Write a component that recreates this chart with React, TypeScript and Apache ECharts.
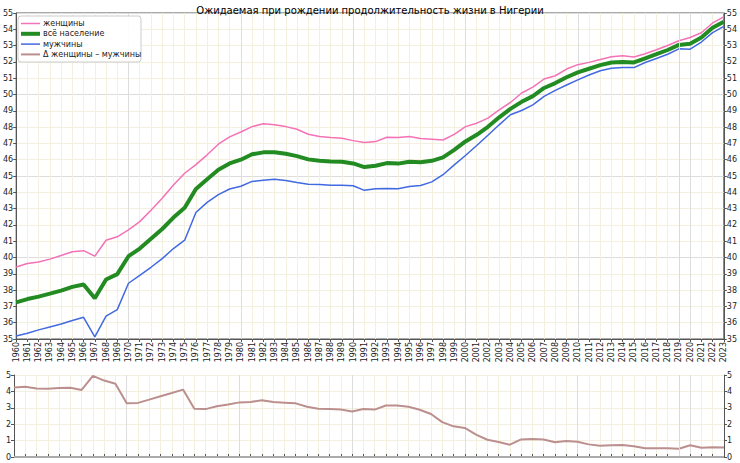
import React, { useEffect, useRef } from "react";
import * as echarts from "echarts";

const years: string[] = Array.from({ length: 64 }, (_, i) => String(1960 + i));

const women = [
  39.42, 39.63, 39.73, 39.9, 40.12, 40.35, 40.42, 40.08, 41.06, 41.27,
  41.7, 42.2, 42.9, 43.63, 44.45, 45.17, 45.7, 46.3, 46.95, 47.4,
  47.7, 48.03, 48.2, 48.15, 48.03, 47.87, 47.56, 47.42, 47.36, 47.32,
  47.17, 47.05, 47.11, 47.38, 47.36, 47.42, 47.3, 47.26, 47.21, 47.55,
  48.03, 48.24, 48.55, 49.06, 49.51, 50.09, 50.45, 50.95, 51.15, 51.56,
  51.83, 51.97, 52.15, 52.32, 52.38, 52.3, 52.5, 52.75, 53.01, 53.3,
  53.5, 53.79, 54.39, 54.76,
];

const total = [
  37.25, 37.45, 37.6, 37.78, 37.97, 38.2, 38.34, 37.5, 38.65, 38.98,
  40.08, 40.55, 41.15, 41.75, 42.45, 43.05, 44.2, 44.8, 45.38, 45.77,
  46.0, 46.33, 46.45, 46.46, 46.36, 46.22, 46.02, 45.94, 45.89, 45.87,
  45.77, 45.55, 45.63, 45.79, 45.76, 45.87, 45.84, 45.93, 46.14, 46.6,
  47.12, 47.53, 48.02, 48.6, 49.12, 49.55, 49.9, 50.4, 50.7, 51.06,
  51.36, 51.58, 51.8, 51.96, 52.0, 51.97, 52.22, 52.47, 52.73, 53.04,
  53.12, 53.5, 54.09, 54.46,
];

const men = [
  35.18, 35.35, 35.56, 35.74, 35.92, 36.13, 36.33, 35.13, 36.4, 36.8,
  38.42, 38.9, 39.4, 39.93, 40.55, 41.06, 42.76, 43.38, 43.86, 44.2,
  44.37, 44.67, 44.74, 44.8, 44.72, 44.6, 44.5, 44.48, 44.44, 44.43,
  44.4, 44.12, 44.22, 44.24, 44.22, 44.36, 44.42, 44.64, 45.08, 45.68,
  46.26, 46.87, 47.5, 48.14, 48.76, 49.02, 49.36, 49.88, 50.25, 50.58,
  50.9, 51.2, 51.46, 51.61, 51.65, 51.65, 51.96, 52.21, 52.47, 52.8,
  52.78, 53.22, 53.8, 54.18,
];

const delta = [
  4.24, 4.28, 4.17, 4.16, 4.2, 4.22, 4.09, 4.95, 4.66, 4.47,
  3.28, 3.3, 3.5, 3.7, 3.9, 4.11, 2.94, 2.92, 3.09, 3.2,
  3.33, 3.36, 3.46, 3.35, 3.31, 3.27, 3.06, 2.94, 2.92, 2.89,
  2.77, 2.93, 2.89, 3.14, 3.14, 3.06, 2.88, 2.62, 2.13, 1.87,
  1.77, 1.37, 1.05, 0.92, 0.75, 1.07, 1.09, 1.07, 0.9, 0.98,
  0.93, 0.77, 0.69, 0.71, 0.73, 0.65, 0.54, 0.54, 0.54, 0.5,
  0.72, 0.57, 0.59, 0.58,
];

const TITLE = "Ожидаемая при рождении продолжительность жизни в Нигерии";
const NAME_W = "женщины";
const NAME_T = "всё население";
const NAME_M = "мужчины";
const NAME_D = "Δ женщины – мужчины";
const MARK_YEAR = "2019";

const FONT = "DejaVu Sans";
const MINOR = "#f4f0df";
const MAJOR = "#dddddd";
const AXIS = "#555555";

const C_W = "#f472b6";
const C_T = "#228b22";
const C_M = "#4169e1";
const C_D = "#bc8f8f";

export default function App() {
  const ref = useRef<HTMLDivElement>(null);

  useEffect(() => {
    if (!ref.current) return;
    const chart = echarts.init(ref.current, null, { renderer: "svg" });

    const xMinorColors = [MAJOR, MINOR, MINOR, MINOR, MINOR, MINOR, MINOR, MINOR, MINOR, MINOR];
    const yMinorColors = [MAJOR, MINOR, MINOR, MINOR, MINOR];

    const markLine = {
      silent: true,
      symbol: "none",
      label: { show: false },
      lineStyle: { color: "#efd9a6", width: 1, type: "solid" },
      data: [{ xAxis: MARK_YEAR }],
    };

    const legendItems = [
      { name: NAME_W, color: C_W, width: 1.5 },
      { name: NAME_T, color: C_T, width: 4 },
      { name: NAME_M, color: C_M, width: 1.5 },
      { name: NAME_D, color: C_D, width: 2 },
    ];
    const legendGraphics: any[] = [
      {
        type: "rect",
        shape: { x: 18, y: 16, width: 123, height: 46, r: 3 },
        style: { fill: "rgba(255,255,255,0.9)", stroke: "#cccccc", lineWidth: 1 },
        z: 20,
      },
    ];
    legendItems.forEach((it, i) => {
      const cy = 23.5 + i * 10.3;
      legendGraphics.push({
        type: "line",
        shape: { x1: 21, y1: cy, x2: 40, y2: cy },
        style: { stroke: it.color, lineWidth: it.width },
        z: 21,
      });
      legendGraphics.push({
        type: "text",
        x: 43,
        y: cy,
        style: {
          text: it.name,
          fontFamily: FONT,
          fontSize: 8,
          fill: "#222",
          textVerticalAlign: "middle",
          verticalAlign: "middle",
        },
        z: 21,
      });
    });

    const option: any = {
      animation: false,
      textStyle: { fontFamily: FONT },
      title: {
        text: TITLE,
        left: "center",
        top: 0,
        textStyle: { fontFamily: FONT, fontSize: 10, fontWeight: "normal", color: "#000" },
      },
      grid: [
        { left: 14, right: 16, top: 13, height: 326, show: true, borderColor: AXIS, borderWidth: 1 },
        { left: 14, right: 16, top: 375, height: 82, show: false },
      ],
      xAxis: [
        {
          type: "category",
          gridIndex: 0,
          data: years,
          boundaryGap: false,
          axisLine: { show: true, lineStyle: { color: AXIS } },
          axisTick: { show: true, interval: 0, length: 3, lineStyle: { color: AXIS } },
          axisLabel: { interval: 0, rotate: 90, fontSize: 8, color: "#222", margin: 3, fontFamily: FONT },
          splitLine: { show: true, interval: 0, lineStyle: { color: xMinorColors, width: 1 } },
        },
        {
          type: "category",
          gridIndex: 1,
          data: years,
          boundaryGap: false,
          position: "top",
          axisLine: { show: true, lineStyle: { color: AXIS } },
          axisTick: { show: true, interval: 0, length: 3, lineStyle: { color: AXIS } },
          axisLabel: { show: false },
          splitLine: { show: true, interval: 0, lineStyle: { color: xMinorColors, width: 1 } },
        },
      ],
      yAxis: [
        {
          type: "value",
          gridIndex: 0,
          min: 35,
          max: 55,
          interval: 1,
          position: "left",
          axisLine: { show: true, lineStyle: { color: AXIS } },
          axisTick: { show: true, length: 3, lineStyle: { color: AXIS } },
          axisLabel: { fontSize: 8, color: "#222", margin: 3, fontFamily: FONT },
          splitLine: { show: true, lineStyle: { color: yMinorColors, width: 1 } },
        },
        {
          type: "value",
          gridIndex: 0,
          min: 35,
          max: 55,
          interval: 1,
          position: "right",
          axisLine: { show: true, lineStyle: { color: AXIS } },
          axisTick: { show: true, length: 3, lineStyle: { color: AXIS } },
          axisLabel: { fontSize: 8, color: "#222", margin: 3, fontFamily: FONT },
          splitLine: { show: false },
        },
        {
          type: "value",
          gridIndex: 1,
          min: 0,
          max: 5,
          interval: 1,
          position: "left",
          axisLine: { show: true, lineStyle: { color: AXIS } },
          axisTick: { show: true, length: 3, lineStyle: { color: AXIS } },
          axisLabel: { fontSize: 8, color: "#222", margin: 3, fontFamily: FONT },
          splitLine: { show: true, lineStyle: { color: MINOR, width: 1 } },
        },
        {
          type: "value",
          gridIndex: 1,
          min: 0,
          max: 5,
          interval: 1,
          position: "right",
          axisLine: { show: true, lineStyle: { color: AXIS } },
          axisTick: { show: true, length: 3, lineStyle: { color: AXIS } },
          axisLabel: { fontSize: 8, color: "#222", margin: 3, fontFamily: FONT },
          splitLine: { show: false },
        },
      ],
      series: [
        {
          name: NAME_W,
          type: "line",
          xAxisIndex: 0,
          yAxisIndex: 0,
          data: women,
          symbol: "none",
          color: C_W,
          lineStyle: { color: C_W, width: 1.5 },
          markLine,
          z: 3,
        },
        {
          name: NAME_T,
          type: "line",
          xAxisIndex: 0,
          yAxisIndex: 0,
          data: total,
          symbol: "none",
          color: C_T,
          lineStyle: { color: C_T, width: 4 },
          z: 4,
        },
        {
          name: NAME_M,
          type: "line",
          xAxisIndex: 0,
          yAxisIndex: 0,
          data: men,
          symbol: "none",
          color: C_M,
          lineStyle: { color: C_M, width: 1.5 },
          z: 3,
        },
        {
          name: NAME_D,
          type: "line",
          xAxisIndex: 1,
          yAxisIndex: 2,
          data: delta,
          symbol: "none",
          color: C_D,
          lineStyle: { color: C_D, width: 2 },
          markLine,
          z: 3,
        },
      ],
      graphic: [
        {
          type: "line",
          shape: { x1: 14, y1: 457, x2: 724, y2: 457 },
          style: { stroke: "#aaaaaa", lineWidth: 2 },
          z: 10,
        },
        ...legendGraphics,
      ],
    };

    chart.setOption(option);
    return () => chart.dispose();
  }, []);

  return (
    <div
      ref={ref}
      style={{ position: "fixed", left: 0, top: 0, width: 740, height: 463, background: "#fff" }}
    />
  );
}
